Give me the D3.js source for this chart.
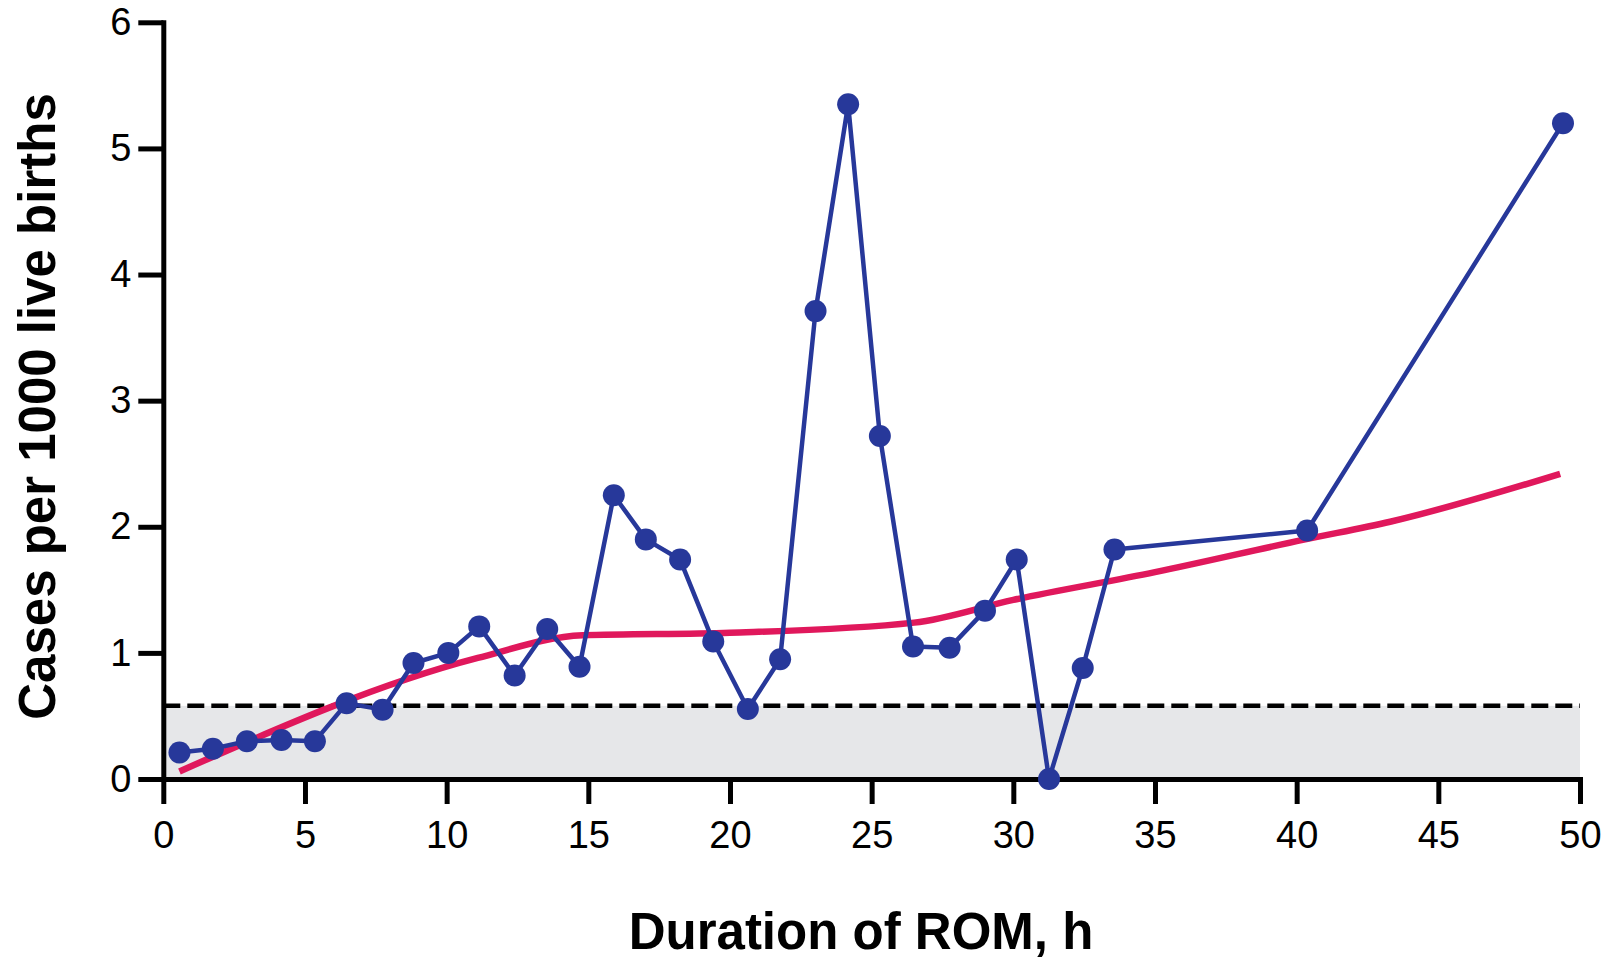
<!DOCTYPE html>
<html>
<head>
<meta charset="utf-8">
<script src="https://cdn.jsdelivr.net/npm/d3@7"></script>
<style>
  html, body { margin: 0; padding: 0; background: #ffffff; }
  svg { display: block; font-family: "Liberation Sans", Arial, Helvetica, sans-serif; }
</style>
</head>
<body>
<svg id="chart" width="1613" height="961"></svg>
<script>
// ---- data ----
const durationHours = [0.57, 1.75, 2.95, 4.17, 5.35, 6.47, 7.74, 8.83, 10.06, 11.15, 12.4, 13.55, 14.69, 15.9, 17.03, 18.24, 19.41, 20.63, 21.77, 23.02, 24.17, 25.29, 26.46, 27.75, 29.0, 30.12, 31.26, 32.45, 33.57, 40.37, 49.4];
const casesPer1000 = [0.21, 0.24, 0.30, 0.31, 0.30, 0.60, 0.55, 0.92, 1.00, 1.21, 0.82, 1.19, 0.89, 2.25, 1.90, 1.74, 1.09, 0.555, 0.95, 3.71, 5.35, 2.72, 1.05, 1.04, 1.335, 1.74, 0.0, 0.88, 1.82, 1.97, 5.20];
const trendHours = [0.57, 11.1, 14.8, 20, 26.5, 30, 35, 40.3, 43.3, 49.3];
const trendValues = [0.06, 0.96, 1.14, 1.16, 1.24, 1.42, 1.64, 1.90, 2.04, 2.42];
const referenceLevel = 0.58;
const xTicks = [0, 5, 10, 15, 20, 25, 30, 35, 40, 45, 50];
const yTicks = [0, 1, 2, 3, 4, 5, 6];
const xTitle = "Duration of ROM, h";
const yTitle = "Cases per 1000 live births";

// ---- layout ----
const svg = d3.select("#chart");
const x = d3.scaleLinear().domain([0, 50]).range([163.3, 1580]);
const y = d3.scaleLinear().domain([0, 6]).range([779, 22.3]);

const blue = "#27389a";
const red = "#e0185c";

// shaded reference band
svg.append("rect")
  .attr("x", x(0))
  .attr("y", y(referenceLevel))
  .attr("width", x(50) - x(0))
  .attr("height", y(0) - y(referenceLevel))
  .attr("fill", "#e6e7e9");

// axes
const axisFont = 38;
const yAxis = svg.append("g")
  .attr("transform", `translate(${x(0)},0)`)
  .call(d3.axisLeft(y).tickValues(yTicks).tickFormat(d3.format("d")).tickSize(25).tickSizeOuter(0).tickPadding(7));
const xAxis = svg.append("g")
  .attr("transform", `translate(0,${y(0)})`)
  .call(d3.axisBottom(x).tickValues(xTicks).tickFormat(d3.format("d")).tickSize(25).tickSizeOuter(0).tickPadding(17));

[yAxis, xAxis].forEach(g => {
  g.select(".domain").attr("stroke", "#000").attr("stroke-width", 5).attr("stroke-linecap", "square");
  g.selectAll(".tick line").attr("stroke", "#000").attr("stroke-width", 5);
  g.selectAll(".tick text")
    .attr("fill", "#000")
    .style("font-size", axisFont + "px")
    .style("font-family", '"Liberation Sans", Arial, sans-serif');
});

// dashed reference line
svg.append("line")
  .attr("x1", x(0)).attr("x2", x(50))
  .attr("y1", y(referenceLevel)).attr("y2", y(referenceLevel))
  .attr("stroke", "#000")
  .attr("stroke-width", 4.5)
  .attr("stroke-dasharray", "17 7");

// trend line
const trend = trendHours.map((h, i) => [h, trendValues[i]]);
svg.append("path")
  .datum(trend)
  .attr("fill", "none")
  .attr("stroke", red)
  .attr("stroke-width", 6.5)
  .attr("stroke-linejoin", "round")
  .attr("d", d3.line().x(d => x(d[0])).y(d => y(d[1])).curve(d3.curveMonotoneX));

// observed series
const obs = durationHours.map((h, i) => [h, casesPer1000[i]]);
svg.append("path")
  .datum(obs)
  .attr("fill", "none")
  .attr("stroke", blue)
  .attr("stroke-width", 4.5)
  .attr("stroke-linejoin", "round")
  .attr("d", d3.line().x(d => x(d[0])).y(d => y(d[1])));

svg.append("g").selectAll("circle")
  .data(obs)
  .join("circle")
  .attr("cx", d => x(d[0]))
  .attr("cy", d => y(d[1]))
  .attr("r", 11)
  .attr("fill", blue);

// axis titles
svg.append("text")
  .attr("x", 861)
  .attr("y", 949)
  .attr("text-anchor", "middle")
  .style("font-size", "51px")
  .style("font-weight", "bold")
  .attr("fill", "#000")
  .text(xTitle);

svg.append("text")
  .attr("transform", "translate(55,406.5) rotate(-90)")
  .attr("text-anchor", "middle")
  .style("font-size", "51px")
  .style("font-weight", "bold")
  .attr("fill", "#000")
  .text(yTitle);
</script>
</body>
</html>
